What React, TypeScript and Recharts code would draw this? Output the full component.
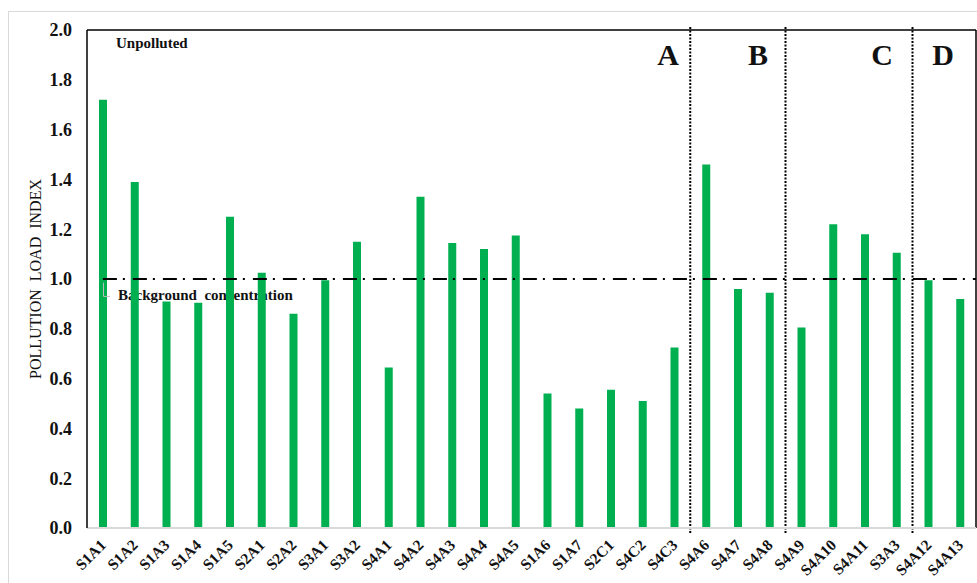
import React from 'react';
import { BarChart, Bar, XAxis, YAxis, ReferenceLine, Customized } from 'recharts';

const categories = [
  'S1A1', 'S1A2', 'S1A3', 'S1A4', 'S1A5', 'S2A1', 'S2A2', 'S3A1', 'S3A2', 'S4A1',
  'S4A2', 'S4A3', 'S4A4', 'S4A5', 'S1A6', 'S1A7', 'S2C1', 'S4C2', 'S4C3', 'S4A6',
  'S4A7', 'S4A8', 'S4A9', 'S4A10', 'S4A11', 'S3A3', 'S4A12', 'S4A13',
];
const pliValues = [
  1.72, 1.39, 0.91, 0.905, 1.25, 1.025, 0.86, 0.995, 1.15, 0.645,
  1.33, 1.145, 1.12, 1.175, 0.54, 0.48, 0.555, 0.51, 0.725, 1.46,
  0.96, 0.945, 0.805, 1.22, 1.18, 1.105, 0.995, 0.92,
];
const yTicks = [0, 0.2, 0.4, 0.6, 0.8, 1.0, 1.2, 1.4, 1.6, 1.8, 2.0];
const backgroundLevel = 1.0;
const groupBoundaries = [19, 22, 26];
const groupLabels = ['A', 'B', 'C', 'D'];

const data = categories.map((name, i) => ({ name, pos: i + 0.5, pli: pliValues[i] }));
const xTickPositions = data.map((d) => d.pos);

const SERIF = '"Liberation Serif", "Times New Roman", serif';
const GREEN = '#00B050';

const XTick = (props: any) => {
  const { x, y, payload } = props;
  const label = categories[Math.floor(payload.value)] ?? '';
  return (
    <text
      transform={`translate(${x + 4},${y + 18}) rotate(-45)`}
      textAnchor="end"
      fontFamily={SERIF}
      fontWeight="bold"
      fontSize={15.5}
      fill="#111"
    >
      {label}
    </text>
  );
};

// coordinates are relative to the chart svg (which sits at page 9,12)
const Annotations = () => {
  const letterX = [659, 749, 873, 934];
  return (
    <g fontFamily={SERIF} fill="#111">
      <text x={107} y={36} fontSize={15} fontWeight="bold">Unpolluted</text>
      <text x={109} y={288} fontSize={15} fontWeight="bold" style={{ whiteSpace: 'pre' }}>
        {'Background  concentration'}
      </text>
      <text
        transform="translate(32,267) rotate(-90)"
        textAnchor="middle"
        fontSize={16}
        style={{ whiteSpace: 'pre' }}
      >
        {'POLLUTION  LOAD  INDEX'}
      </text>
      {groupLabels.map((l, i) => (
        <text key={l} x={letterX[i]} y={53} textAnchor="middle" fontSize={30} fontWeight="bold">
          {l}
        </text>
      ))}
    </g>
  );
};

export default function App() {
  return (
    <div
      style={{
        position: 'absolute',
        left: 8,
        top: 11,
        width: 968,
        height: 572,
        borderTop: '1px solid #d9d9d9',
        borderLeft: '1px solid #d9d9d9',
        background: '#fff',
      }}
    >
      <BarChart
        width={968}
        height={572}
        data={data}
        margin={{ top: 18, right: 1, bottom: 6, left: 28 }}
      >
        <XAxis
          dataKey="pos"
          type="number"
          domain={[0, 28]}
          allowDataOverflow
          ticks={xTickPositions}
          interval={0}
          tickLine={false}
          tickSize={0}
          tickMargin={0}
          height={50}
          axisLine={{ stroke: '#d9d9d9', strokeWidth: 2 }}
          tick={<XTick />}
        />
        <YAxis
          domain={[0, 2]}
          ticks={yTicks}
          width={50}
          tickLine={false}
          tickSize={0}
          tickMargin={15}
          interval={0}
          allowDataOverflow
          axisLine={{ stroke: '#000', strokeWidth: 1.5 }}
          tickFormatter={(v: number) => v.toFixed(1)}
          tick={{ fontFamily: SERIF, fontWeight: 'bold', fontSize: 18, fill: '#111' }}
        />
        <Bar dataKey="pli" fill={GREEN} barSize={8} isAnimationActive={false} />
        <ReferenceLine y={2} stroke="#000" strokeWidth={1.5} />
        <ReferenceLine x={28} stroke="#000" strokeWidth={1.5} />
        <ReferenceLine
          segment={[{ x: 0.5, y: backgroundLevel }, { x: 28, y: backgroundLevel }]}
          stroke="#000"
          strokeWidth={2}
          strokeDasharray="14 6 2 8"
        />
        <ReferenceLine
          segment={[{ x: 0.52, y: 0.985 }, { x: 0.52, y: 0.93 }]}
          stroke="#bbb"
          strokeWidth={1}
        />
        <ReferenceLine
          segment={[{ x: 0.52, y: 0.93 }, { x: 0.72, y: 0.93 }]}
          stroke="#bbb"
          strokeWidth={1}
        />
        {groupBoundaries.map((b) => (
          <ReferenceLine
            key={b}
            segment={[{ x: b, y: 2.012 }, { x: b, y: -0.02 }]}
            ifOverflow="visible"
            stroke="#000"
            strokeWidth={2}
            strokeDasharray="2 1.5"
          />
        ))}
        <Customized component={Annotations} />
      </BarChart>
    </div>
  );
}
